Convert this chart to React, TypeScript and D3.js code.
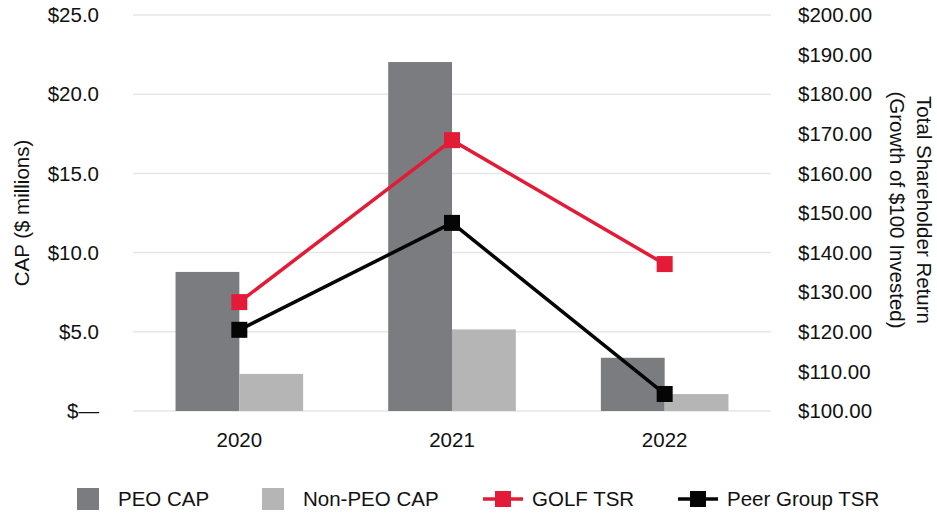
import * as d3 from "d3";

const years = ["2020", "2021", "2022"];
const peoCap = [8.78, 22.03, 3.36];
const nonPeoCap = [2.34, 5.15, 1.07];
const golfTsr = [127.5, 168.4, 137.1];
const peerTsr = [120.5, 147.5, 104.3];
const leftTicks = [0, 5, 10, 15, 20, 25];
const rightTicks = [100, 110, 120, 130, 140, 150, 160, 170, 180, 190, 200];

const W = 937;
const H = 513;
const m = { top: 15, right: 166, bottom: 102, left: 133 };
const font = "'Liberation Sans', Arial, Helvetica, sans-serif";
const fs = 20.5;
const C = { peo: "#7a7c80", non: "#b5b5b5", golf: "#e31b37", peer: "#050505", grid: "#e6e6e6" };

export default function App() {
  const x = d3.scaleBand(years, [m.left, W - m.right]).paddingInner(0.4).paddingOuter(0.2);
  const yL = d3.scaleLinear([0, 25], [H - m.bottom, m.top]);
  const yR = d3.scaleLinear([100, 200], [H - m.bottom, m.top]);
  const bw = x.bandwidth() / 2;
  const cx = (y: string) => (x(y) as number) + bw;
  const line = d3.line<number>((_, i) => cx(years[i]), (d) => yR(d));
  const mid = (m.top + H - m.bottom) / 2;

  const legend = [
    { label: "PEO CAP", kind: "box", color: C.peo, x: 77 },
    { label: "Non-PEO CAP", kind: "box", color: C.non, x: 262 },
    { label: "GOLF TSR", kind: "line", color: C.golf, x: 483 },
    { label: "Peer Group TSR", kind: "line", color: C.peer, x: 678 },
  ];

  return (
    <svg width={W} height={H} style={{ position: "absolute", left: 0, top: 0 }} fontFamily={font} fill="#111">
      {leftTicks.map((t) => (
        <g key={t}>
          <line x1={m.left} x2={W - m.right} y1={yL(t)} y2={yL(t)} stroke={C.grid} strokeWidth={1.5} />
          <text x={99} y={yL(t)} dy="0.35em" textAnchor="end" fontSize={fs}>
            {t === 0 ? "$\u2014" : `$${t.toFixed(1)}`}
          </text>
        </g>
      ))}
      {rightTicks.map((t) => (
        <text key={t} x={798} y={yR(t)} dy="0.35em" fontSize={fs}>
          {`$${t.toFixed(2)}`}
        </text>
      ))}
      <text transform={`translate(29,${mid}) rotate(-90)`} textAnchor="middle" fontSize={fs}>
        CAP ($ millions)
      </text>
      <text transform={`translate(890,${mid - 3}) rotate(90)`} textAnchor="middle" fontSize={fs}>
        <tspan x={0} y={-27}>Total Shareholder Return</tspan>
        <tspan x={0} y={0}>(Growth of $100 Invested)</tspan>
      </text>

      {years.map((yr, i) => (
        <g key={yr}>
          <rect x={x(yr)} y={yL(peoCap[i])} width={bw} height={yL(0) - yL(peoCap[i])} fill={C.peo} />
          <rect x={cx(yr)} y={yL(nonPeoCap[i])} width={bw} height={yL(0) - yL(nonPeoCap[i])} fill={C.non} />
          <text x={cx(yr)} y={447} textAnchor="middle" fontSize={fs}>{yr}</text>
        </g>
      ))}

      {[
        { d: golfTsr, c: C.golf },
        { d: peerTsr, c: C.peer },
      ].map((s, k) => (
        <g key={k}>
          <path d={line(s.d) as string} fill="none" stroke={s.c} strokeWidth={3.5} />
          {s.d.map((v, i) => (
            <rect key={i} x={cx(years[i]) - 8} y={yR(v) - 8} width={16} height={16} fill={s.c} />
          ))}
        </g>
      ))}

      {legend.map((l) => (
        <g key={l.label}>
          {l.kind === "box" ? (
            <rect x={l.x} y={488} width={22} height={22} fill={l.color} />
          ) : (
            <g>
              <line x1={l.x} x2={l.x + 40} y1={499} y2={499} stroke={l.color} strokeWidth={3.5} />
              <rect x={l.x + 12} y={491} width={16} height={16} fill={l.color} />
            </g>
          )}
          <text x={l.x + (l.kind === "box" ? 41 : 49)} y={499} dy="0.35em" fontSize={fs}>
            {l.label}
          </text>
        </g>
      ))}
    </svg>
  );
}
